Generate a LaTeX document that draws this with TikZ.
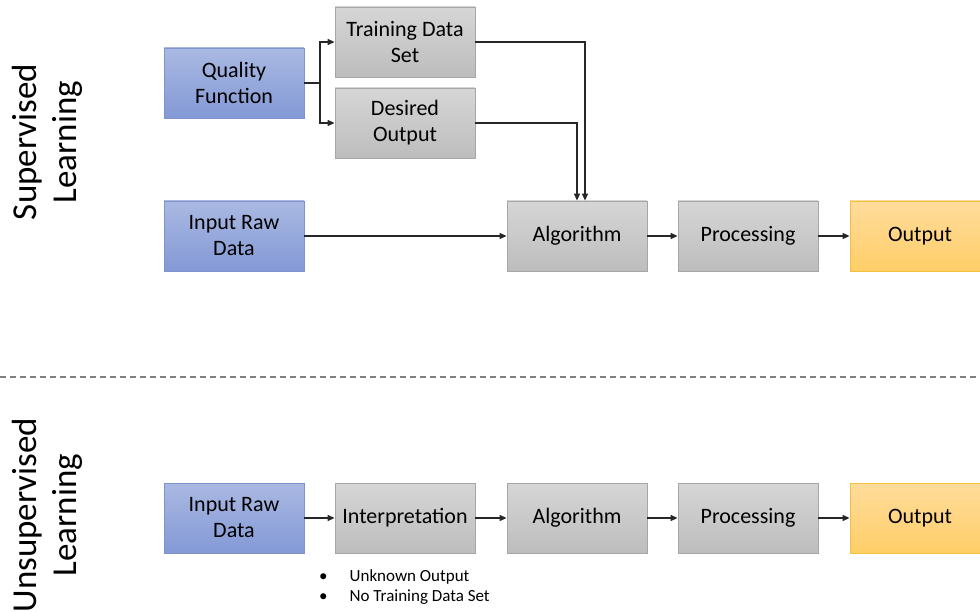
\documentclass[tikz,border=0pt]{standalone}
\usepackage{fontspec}
\setmainfont{Carlito}
\usetikzlibrary{arrows.meta}
\definecolor{blueTop}{HTML}{AAB9E2}
\definecolor{blueBot}{HTML}{8399D6}
\definecolor{blueEdge}{HTML}{7E93CC}
\definecolor{grayTop}{HTML}{D6D6D6}
\definecolor{grayBot}{HTML}{BDBDBD}
\definecolor{grayEdge}{HTML}{A6A6A6}
\definecolor{goldTop}{HTML}{FFDC9C}
\definecolor{goldBot}{HTML}{FFCE68}
\definecolor{goldEdge}{HTML}{F2C23C}
\definecolor{lineCol}{HTML}{262626}
\tikzset{
  box/.style={minimum width=140pt, minimum height=70pt, inner sep=0pt,
    align=center, font=\fontsize{22}{26}\selectfont, line width=0.8pt},
  inbox/.style={box, draw=blueEdge, top color=blueTop, bottom color=blueBot},
  graybox/.style={box, draw=grayEdge, top color=grayTop, bottom color=grayBot},
  outbox/.style={box, draw=goldEdge, top color=goldTop, bottom color=goldBot},
  link/.style={draw=lineCol, line width=1.4pt, -{Triangle[length=7pt,width=6pt]}},
  side/.style={rotate=90, align=center, font=\fontsize{35}{40}\selectfont},
  note/.style={font=\fontsize{17}{20}\selectfont, anchor=west, inner sep=0pt}
}
\begin{document}
\begin{tikzpicture}[x=1pt, y=-1pt]
  \useasboundingbox (0,0) rectangle (980,612);

  % supervised row
  \node[inbox]   (qf)   at (234,83)  {Quality\\Function};
  \node[graybox] (tds)  at (405,42)  {Training Data\\Set};
  \node[graybox] (dout) at (405,123) {Desired\\Output};
  \node[inbox]   (raw1) at (234,236) {Input Raw\\Data};
  \node[graybox] (alg1) at (577,236) {Algorithm};
  \node[graybox] (pro1) at (748,236) {Processing};
  \node[outbox]  (out1) at (920,236) {Output};

  \coordinate (fork) at (320,83);
  \draw[link] (qf.east) -- (fork) |- (tds.west);
  \draw[link] (fork) |- (dout.west);
  \draw[link] (tds.east) -| ([xshift=8pt]alg1.north);
  \draw[link] (dout.east) -| (alg1.north);
  \draw[link] (raw1) -- (alg1);
  \draw[link] (alg1) -- (pro1);
  \draw[link] (pro1) -- (out1);

  % separator
  \coordinate (sepL) at (0,377);
  \coordinate (sepR) at (980,377);
  \draw[gray, line width=1.2pt, dash pattern=on 6pt off 4pt] (sepL) -- (sepR);

  % unsupervised row
  \node[inbox]   (raw2) at (234,518) {Input Raw\\Data};
  \node[graybox] (int2) at (405,518) {Interpretation};
  \node[graybox] (alg2) at (577,518) {Algorithm};
  \node[graybox] (pro2) at (748,518) {Processing};
  \node[outbox]  (out2) at (920,518) {Output};
  \draw[link] (raw2) -- (int2);
  \draw[link] (int2) -- (alg2);
  \draw[link] (alg2) -- (pro2);
  \draw[link] (pro2) -- (out2);

  \node[note] (b1) at (319,577) {\textbullet\hspace{22pt}Unknown Output};
  \node[note] (b2) at (319,597) {\textbullet\hspace{22pt}No Training Data Set};

  % side labels
  \node[side] (sup) at (47,142) {Supervised\\Learning};
  \node[side] (uns) at (47,515) {Unsupervised\\Learning};
\end{tikzpicture}
\end{document}
